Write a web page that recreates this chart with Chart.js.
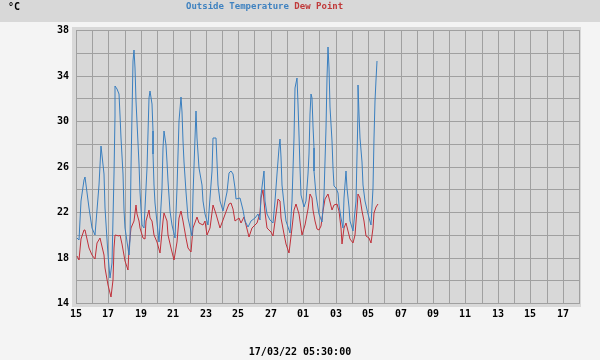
<!DOCTYPE html>
<html>
<head>
<meta charset="utf-8">
<script src="https://cdn.jsdelivr.net/npm/chart.js@4"></script>
<style>
  body { margin: 0; background: #f4f4f4; }
  canvas { display: block; }
</style>
</head>
<body>
<canvas id="grafica" width="600" height="360"></canvas>
<script>
//--------Datos (dias desde el 15/02)
const dayLabels = ["15", "17", "19", "21", "23", "25", "27", "01", "03", "05", "07", "09", "11", "13", "15", "17"]

const tempDays = [0.06, 0.20, 0.33, 0.47, 0.57, 0.78, 0.99, 1.15, 1.40, 1.56, 1.71, 1.81, 1.97, 2.11, 2.22, 2.32, 2.38, 2.42, 2.53, 2.63,
    2.69, 2.79, 2.88, 2.94, 3.04, 3.25, 3.35, 3.41, 3.49, 3.57, 3.65, 3.70, 3.86, 3.96, 4.07, 4.17, 4.37, 4.48, 4.58, 4.66,
    4.73, 4.76, 4.81, 4.87, 5.13, 5.28, 5.38, 5.44, 5.55, 5.63, 5.69, 5.79, 5.90, 6.10, 6.24, 6.36, 6.45, 6.51, 6.61, 6.67,
    6.78, 6.92, 7.13, 7.23, 7.33, 7.39, 7.47, 7.60, 7.74, 7.84, 7.95, 8.15, 8.36, 8.46, 8.63, 8.67, 8.77, 8.87, 9.08, 9.29,
    9.45, 9.53, 9.67, 9.78, 9.88, 10.09, 10.29, 10.43, 10.60, 10.80, 11.01, 11.21, 11.32, 11.42, 11.57, 11.66, 11.79, 11.93, 12.14, 12.24,
    12.40, 12.49, 12.55, 12.61, 12.69, 12.82, 12.96, 13.17, 13.31, 13.41, 13.51, 13.60, 13.68, 13.72, 13.78, 13.88, 14.05, 14.17, 14.28, 14.34,
    14.42, 14.46, 14.52, 14.58, 14.65, 14.68, 14.79, 14.95, 15.16, 15.30, 15.40, 15.47, 15.55, 15.61, 15.67, 15.76, 15.82, 15.92, 16.02, 16.12,
    16.22, 16.33, 16.43, 16.53, 16.64, 16.72, 16.80, 16.90, 17.09, 17.25, 17.36, 17.39, 17.46, 17.52, 17.62, 17.70, 17.83, 17.97, 18.18, 18.28,
    18.34, 18.42, 18.48, 18.56]
const tempValues = [19.7, 19.5, 23.0, 24.8, 25.1, 22.35, 20.6, 20.0, 24.4, 27.8, 25.3, 22.35, 18.25, 16.2, 17.5, 25.3, 30.4, 33.05, 32.8, 32.4,
    30.55, 28.5, 25.3, 22.2, 20.6, 18.25, 19.5, 25.9, 35.25, 36.2, 34.7, 31.75, 26.2, 23.8, 20.9, 20.6, 25.9, 32.0, 32.6, 31.5,
    29.1, 27.1, 24.4, 22.8, 19.4, 24.1, 27.6, 29.1, 27.9, 26.4, 24.7, 22.1, 20.9, 19.7, 24.1, 30.0, 32.1, 30.8, 28.2, 26.4,
    23.8, 21.5, 19.9, 23.5, 28.5, 30.85, 28.5, 25.9, 24.4, 23.0, 21.8, 20.9, 25.6, 28.5, 28.5, 26.4, 24.4, 23.0, 22.1, 23.8,
    25.4, 25.6, 25.3, 24.1, 23.1, 23.2, 22.2, 21.2, 20.65, 21.2, 21.5, 21.8, 21.3, 23.5, 25.6, 23.0, 21.8, 21.3, 21.0, 23.0,
    25.3, 27.6, 28.4, 26.8, 24.4, 22.7, 21.2, 20.15, 23.0, 28.5, 32.9, 33.8, 31.5, 28.8, 25.9, 23.5, 22.4, 23.0, 25.3, 27.1,
    30.6, 32.4, 32.0, 29.6, 27.6, 25.6, 23.5, 21.8, 21.1, 23.5, 29.4, 33.8, 36.5, 34.7, 31.2, 28.2, 25.9, 24.3, 24.1, 23.7,
    22.6, 21.5, 20.6, 23.2, 25.6, 24.1, 22.4, 21.2, 20.3, 23.0, 30.9, 33.2, 30.6, 28.5, 26.4, 24.4, 23.0, 21.8, 20.9, 24.1,
    28.5, 31.8, 33.6, 35.25]

const dewDays = [0.06, 0.20, 0.33, 0.49, 0.57, 0.78, 0.99, 1.15, 1.29, 1.46, 1.71, 1.81, 1.97, 2.16, 2.26, 2.34, 2.42, 2.63, 2.73, 2.83,
    3.00, 3.19, 3.28, 3.41, 3.56, 3.70, 3.76, 3.86, 3.96, 4.11, 4.23, 4.33, 4.48, 4.56, 4.66, 4.81, 4.97, 5.18, 5.34, 5.42,
    5.59, 5.69, 5.83, 6.04, 6.20, 6.36, 6.47, 6.61, 6.78, 6.92, 7.07, 7.19, 7.44, 7.60, 7.81, 7.95, 8.09, 8.26, 8.46, 8.63,
    8.87, 9.08, 9.29, 9.45, 9.53, 9.67, 9.81, 10.02, 10.18, 10.35, 10.49, 10.66, 10.84, 11.01, 11.17, 11.32, 11.42, 11.52, 11.63, 11.79,
    12.00, 12.14, 12.30, 12.45, 12.55, 12.65, 12.82, 12.96, 13.12, 13.31, 13.43, 13.57, 13.72, 13.84, 13.92, 14.09, 14.28, 14.42, 14.54, 14.62,
    14.74, 14.85, 14.95, 15.10, 15.20, 15.36, 15.51, 15.65, 15.77, 15.92, 16.06, 16.22, 16.33, 16.39, 16.53, 16.64, 16.78, 16.90, 17.05, 17.17,
    17.30, 17.39, 17.50, 17.62, 17.76, 17.87, 18.03, 18.19, 18.28, 18.38, 18.48, 18.59]
const dewValues = [18.15, 17.8, 19.6, 20.4, 20.4, 18.8, 18.2, 17.9, 19.3, 19.7, 18.2, 17.1, 15.6, 14.5, 16.0, 18.8, 20.0, 19.9, 20.0, 19.2,
    17.7, 16.9, 18.8, 20.6, 21.2, 22.6, 21.8, 21.2, 20.6, 19.7, 19.6, 21.2, 22.2, 21.5, 21.2, 20.0, 19.4, 18.4, 21.2, 21.9,
    21.2, 20.0, 18.8, 17.8, 19.4, 21.5, 22.1, 21.2, 19.7, 18.8, 18.5, 20.6, 21.6, 21.0, 20.9, 21.2, 20.0, 20.6, 22.65, 21.8,
    20.6, 21.3, 22.3, 22.7, 22.8, 22.3, 21.2, 21.5, 21.0, 21.6, 20.9, 19.8, 20.6, 20.9, 21.0, 21.9, 23.2, 23.9, 22.0, 20.6,
    20.2, 19.9, 21.8, 23.1, 23.0, 21.5, 20.1, 19.2, 18.4, 20.6, 22.2, 22.7, 21.8, 20.6, 20.0, 20.9, 22.3, 23.6, 23.2, 22.2,
    21.2, 20.5, 20.4, 20.8, 22.1, 23.1, 23.6, 22.9, 22.2, 22.6, 22.7, 22.1, 20.6, 19.2, 20.6, 21.0, 20.3, 19.6, 19.3, 20.0,
    22.3, 23.6, 23.2, 22.1, 21.2, 19.9, 19.7, 19.3, 20.6, 21.9, 22.4, 22.7]

const fechaTexto = "17/03/22 05:30:00"

//--------Fondo y textos
const fondoPlugin = {
    id: 'fondo',
    beforeDraw(chart) {
        const ctx = chart.ctx
        const area = chart.chartArea
        ctx.save()
        ctx.fillStyle = '#f4f4f4'
        ctx.fillRect(0, 0, chart.width, chart.height)
        ctx.fillStyle = '#d8d8d8'
        ctx.fillRect(0, 0, chart.width, 22)
        ctx.fillRect(area.left - 4, area.top - 3, area.right - area.left + 6, area.bottom - area.top + 7)
        ctx.restore()
    },
    afterDraw(chart) {
        const ctx = chart.ctx
        ctx.save()
        ctx.textBaseline = 'alphabetic'
        ctx.font = 'bold 10px "DejaVu Sans Mono"'
        ctx.fillStyle = '#000'
        ctx.textAlign = 'left'
        ctx.fillText('°C', 8, 10)

        ctx.font = 'bold 9px "DejaVu Sans Mono"'
        const t1 = 'Outside Temperature '
        ctx.fillStyle = '#3f82c0'
        ctx.fillText(t1, 186, 9)
        ctx.fillStyle = '#c03a3a'
        ctx.fillText('Dew Point', 186 + ctx.measureText(t1).width, 9)

        ctx.font = 'bold 10px "DejaVu Sans Mono"'
        ctx.fillStyle = '#000'
        ctx.textAlign = 'center'
        ctx.fillText(fechaTexto, 300, 355)
        ctx.restore()
    }
}

const gridColor = '#a0a0a0'
const tickFont = { family: '"DejaVu Sans Mono"', size: 10, weight: 'bold' }

const graficaChart = new Chart(document.getElementById('grafica'), {
    type: 'line',
    data: {
        datasets: [{
            label: 'Outside Temperature',
            data: tempDays.map((d, i) => ({ x: d, y: tempValues[i] })),
            borderColor: '#3a7fbf',
            borderWidth: 1,
            pointRadius: 0,
            tension: 0
        }, {
            label: 'Dew Point',
            data: dewDays.map((d, i) => ({ x: d, y: dewValues[i] })),
            borderColor: '#c0303a',
            borderWidth: 1,
            pointRadius: 0,
            tension: 0
        }]
    },
    options: {
        responsive: false,
        animation: false,
        devicePixelRatio: 1,
        layout: { padding: { top: 30, right: 21, left: 0, bottom: 0 } },
        plugins: { legend: { display: false }, tooltip: { enabled: false } },
        scales: {
            x: {
                type: 'linear',
                min: 0,
                max: 31,
                alignToPixels: true,
                afterFit: s => { s.height = 57 },
                grid: { color: gridColor, lineWidth: 1, drawTicks: false },
                border: { color: gridColor },
                ticks: {
                    stepSize: 1,
                    maxTicksLimit: 100,
                    autoSkip: false,
                    maxRotation: 0,
                    padding: 5,
                    color: '#000',
                    font: tickFont,
                    callback: v => v % 2 === 0 ? dayLabels[v / 2] : ''
                }
            },
            y: {
                min: 14,
                max: 38,
                alignToPixels: true,
                afterFit: s => { s.width = 76 },
                grid: { color: gridColor, lineWidth: 1, drawTicks: false },
                border: { color: gridColor },
                ticks: {
                    stepSize: 2,
                    padding: 7,
                    color: '#000',
                    font: tickFont,
                    callback: v => v % 4 === 2 ? v : ''
                }
            }
        }
    },
    plugins: [fondoPlugin]
})
</script>
</body>
</html>
